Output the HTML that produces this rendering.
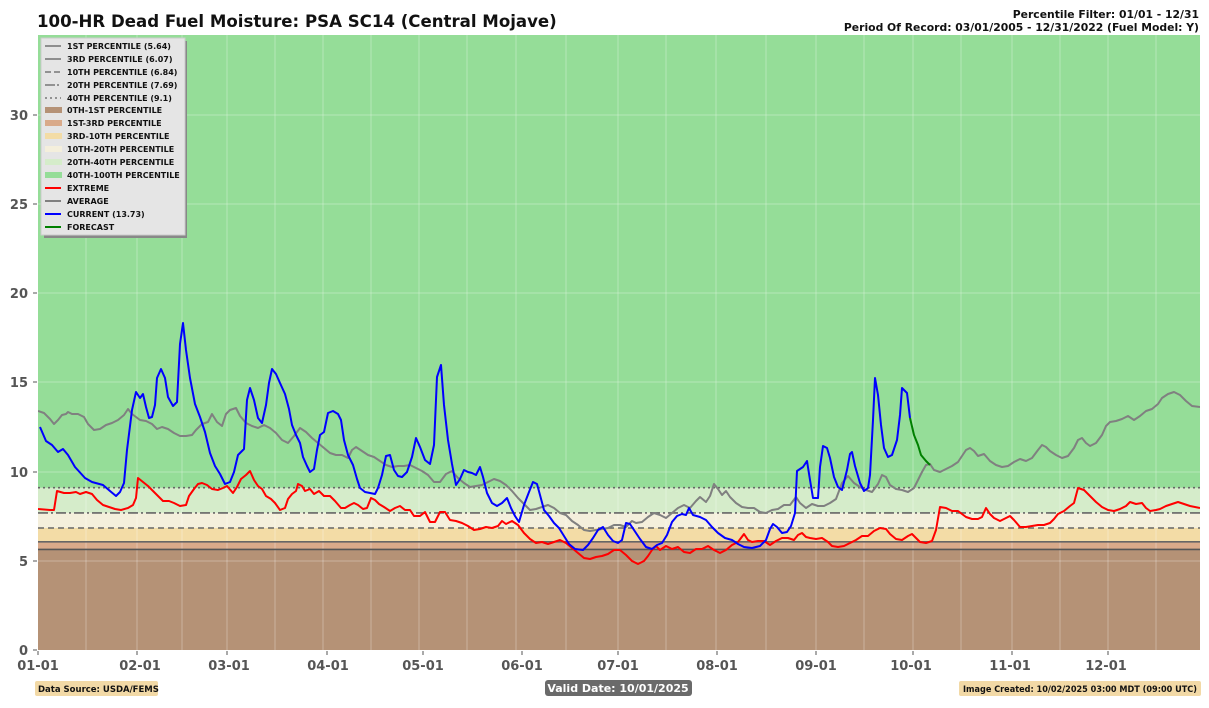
<!DOCTYPE html>
<html><head><meta charset="utf-8"><style>
body{margin:0;background:#fff;width:1209px;height:703px;overflow:hidden;font-family:"Liberation Sans","DejaVu Sans",sans-serif}
svg text{font-family:"DejaVu Sans","Liberation Sans",sans-serif;font-weight:bold}
</style></head><body>
<svg width="1209" height="703" viewBox="0 0 1209 703" xmlns="http://www.w3.org/2000/svg">
<defs><clipPath id="c"><rect x="38" y="35" width="1162" height="615"/></clipPath></defs>
<g clip-path="url(#c)">
<rect x="38" y="35" width="1162" height="453" fill="#95dd98"/>
<rect x="38" y="487.7" width="1162" height="25.2" fill="#d5ecca"/>
<rect x="38" y="512.9" width="1162" height="15.1" fill="#f4efdc"/>
<rect x="38" y="528" width="1162" height="13.8" fill="#f3dca6"/>
<rect x="38" y="541.8" width="1162" height="7.6" fill="#d9aa8a"/>
<rect x="38" y="549.4" width="1162" height="100.6" fill="#b59276"/>
<g stroke="#fff" stroke-opacity="0.3" stroke-width="1">
<path d="M38 115H1200M38 204H1200M38 293H1200M38 382H1200M38 472H1200M38 561H1200"/>
<path d="M86 35V650M137 35V650M182 35V650M227 35V650M275 35V650M323 35V650M371 35V650M419 35V650M467 35V650M516 35V650M566 35V650M618 35V650M666 35V650M716 35V650M766 35V650M816 35V650M864 35V650M913 35V650M961 35V650M1012 35V650M1060 35V650M1108 35V650M1156 35V650"/>
</g>
<g stroke-width="1.6" fill="none">
<path d="M38 549.4H1200" stroke="#555"/>
<path d="M38 541.8H1200" stroke="#666"/>
<path d="M38 528H1200" stroke="#666" stroke-dasharray="6,4"/>
<path d="M38 512.9H1200" stroke="#666" stroke-dasharray="10,3,2,3"/>
<path d="M38 487.7H1200" stroke="#666" stroke-dasharray="2,3"/>
</g>
<g fill="none" stroke-width="2" stroke-linejoin="round">
<polyline stroke="#808080" points="38,411 44,413 50,419 54,424 58,420 62,415 66,414 68,412 72,414 78,414 84,417 88,424 94,430 100,429 106,425 112,423 118,420 124,415 128,409 132,414 140,420 146,421 152,424 157,429 162,427 168,429 174,433 180,436 186,436 192,435 196,430 202,424 208,422 212,414 217,422 222,426 226,414 230,410 236,408 240,416 246,423 252,426 258,428 264,425 270,428 276,433 282,440 288,443 294,436 300,428 306,432 312,438 318,443 324,448 330,453 336,455 342,455 348,458 352,450 356,447 362,451 368,455 374,457 380,461 386,465 392,467 398,466 404,466 410,465 416,468 422,471 428,475 434,482 440,482 446,474 452,471 458,478 464,483 470,487 476,486 482,485 488,482 494,479 500,481 506,485 512,491 518,498 524,504 530,510 536,509 542,507 548,505 554,508 560,513 566,515 572,521 578,525 584,530 590,531 596,530 602,529 608,528 614,525 620,525 626,527 632,521 636,523 642,522 648,517 654,513 660,515 666,518 672,513 678,508 684,505 690,508 696,501 700,497 706,502 710,496 714,484 718,489 722,495 726,491 730,497 736,503 742,507 748,508 754,508 760,512 766,513 772,510 778,509 784,505 790,505 796,497 800,503 806,508 812,504 818,506 824,506 830,503 836,499 842,483 848,476 854,483 860,487 866,490 872,492 878,484 882,475 886,477 890,485 896,489 902,490 908,492 914,488 918,480 922,472 926,465 930,464 934,470 940,472 946,469 952,466 958,462 962,456 966,450 970,448 974,451 978,456 984,454 990,461 996,465 1002,467 1008,466 1014,462 1020,459 1026,461 1032,458 1038,450 1042,445 1046,447 1050,451 1056,455 1062,458 1068,456 1074,448 1078,440 1082,438 1086,443 1090,446 1096,443 1102,435 1106,426 1110,422 1116,421 1122,419 1128,416 1134,420 1140,416 1146,411 1152,409 1158,404 1162,398 1168,394 1174,392 1180,395 1186,401 1192,406 1200,407"/>
<polyline stroke="#ff0000" points="38,509 50,510 54,510 57,491 64,493 70,493 76,492 80,494 86,492 92,494 97,500 103,505 109,507 115,509 121,510 128,508 133,505 136,498 138,478 143,482 148,486 153,491 158,496 163,501 169,501 174,503 180,506 186,505 189,496 194,489 198,484 202,483 207,485 212,489 218,490 223,488 227,486 233,493 237,487 241,479 246,475 250,471 254,480 258,486 262,489 266,496 271,499 275,503 280,510 285,508 288,499 292,494 296,491 298,484 302,486 305,491 310,489 314,494 319,491 324,496 330,496 335,501 341,508 345,508 350,505 354,503 358,505 363,509 367,508 371,498 375,500 379,504 384,507 390,511 395,508 400,506 405,510 410,510 414,516 420,516 425,512 430,522 435,522 440,512 445,512 450,520 456,521 462,523 468,526 474,530 480,529 486,527 492,528 498,526 502,521 506,524 512,521 518,525 524,533 530,539 536,543 542,542 548,544 554,542 560,540 566,543 572,548 578,553 584,558 590,559 596,557 602,556 608,554 614,550 620,550 626,555 632,561 638,564 644,561 648,556 652,550 656,546 660,550 666,546 672,549 678,547 684,552 690,553 696,549 702,549 708,546 714,550 720,553 726,550 732,545 738,542 744,534 748,540 752,542 758,541 764,541 770,545 776,541 782,538 788,538 794,540 798,535 802,533 806,537 810,538 816,539 822,538 828,542 832,546 838,547 844,546 850,543 856,540 862,536 868,536 874,531 880,528 886,529 890,534 896,539 902,540 908,536 912,534 916,538 920,542 926,543 932,541 936,530 940,507 946,508 952,511 958,511 962,514 966,517 972,519 978,519 982,517 986,508 990,514 994,518 1000,521 1006,518 1010,516 1014,520 1020,527 1026,527 1032,526 1038,525 1044,525 1050,523 1054,519 1058,514 1064,511 1070,506 1074,503 1078,488 1084,490 1090,496 1096,502 1102,507 1108,510 1114,511 1120,509 1126,506 1130,502 1136,504 1142,503 1146,508 1150,511 1156,510 1160,509 1166,506 1172,504 1178,502 1184,504 1190,506 1200,508"/>
<polyline stroke="#0000ff" points="40,427 46,441 52,445 58,452 63,449 68,455 75,467 85,478 92,482 103,485 110,491 116,496 120,492 124,483 127,450 132,410 136,392 140,398 143,394 146,407 149,418 152,417 155,405 157,378 161,369 165,378 168,397 173,406 177,402 180,344 183,323 186,350 190,378 195,404 200,417 205,432 210,453 215,466 220,474 225,484 230,482 234,472 238,455 244,449 247,400 250,388 254,400 258,418 262,423 266,405 269,383 272,369 276,374 280,383 285,394 289,409 292,425 296,435 300,443 303,457 307,466 310,472 314,469 317,450 320,435 324,432 328,413 333,411 338,414 341,420 344,440 348,455 353,465 357,479 360,488 365,492 370,493 375,494 378,488 382,475 386,456 390,455 394,470 398,476 402,477 407,472 412,457 416,438 420,447 425,460 430,464 434,445 437,377 441,365 444,405 448,440 452,464 456,485 460,479 464,470 468,472 472,473 476,475 480,467 483,477 487,493 492,503 497,506 502,503 507,498 511,508 515,516 519,522 524,505 529,492 533,482 537,484 540,495 544,510 549,516 554,523 559,528 564,536 569,544 575,549 583,550 588,545 593,538 598,530 603,527 608,535 613,541 618,543 622,540 626,523 630,524 634,530 640,539 646,547 652,549 657,545 662,543 667,535 672,522 677,516 682,514 686,515 689,508 693,515 700,517 706,520 712,527 718,533 725,538 732,540 738,544 744,547 752,548 760,546 766,540 770,529 773,524 777,527 782,533 787,532 791,526 795,513 797,471 803,467 807,461 810,480 813,498 818,498 820,467 823,446 827,448 830,458 834,477 838,487 842,490 847,470 850,454 852,452 855,466 860,483 864,491 868,488 870,475 873,420 875,378 878,395 881,425 884,448 888,457 892,455 897,440 900,415 902,388 907,393 910,418"/>
<polyline stroke="#008000" points="910,418 914,435 918,445 921,455 926,461 930,465"/>
</g>
</g>
<g font-size="13" fill="#555" text-anchor="end">
<text x="28" y="655">0</text><text x="28" y="566">5</text><text x="28" y="477">10</text><text x="28" y="387">15</text><text x="28" y="298">20</text><text x="28" y="209">25</text><text x="28" y="120">30</text>
</g>
<g stroke="#555"><path d="M33 650h4M33 561h4M33 472h4M33 382h4M33 293h4M33 204h4M33 115h4"/>
<path d="M38 651v4M137 651v4M227 651v4M327 651v4M423 651v4M522 651v4M618 651v4M717 651v4M816 651v4M913 651v4M1012 651v4M1108 651v4"/></g>
<g font-size="13" fill="#555" text-anchor="middle">
<text x="38" y="670">01-01</text><text x="140" y="670">02-01</text><text x="229" y="670">03-01</text><text x="328" y="670">04-01</text><text x="423" y="670">05-01</text><text x="522" y="670">06-01</text><text x="618" y="670">07-01</text><text x="717" y="670">08-01</text><text x="816" y="670">09-01</text><text x="911" y="670">10-01</text><text x="1010" y="670">11-01</text><text x="1106" y="670">12-01</text>
</g>
<text x="37" y="27" font-size="16.6" fill="#111">100-HR Dead Fuel Moisture: PSA SC14 (Central Mojave)</text>
<text x="1199" y="18" font-size="10.8" fill="#111" text-anchor="end">Percentile Filter: 01/01 - 12/31</text>
<text x="1199" y="31" font-size="10.8" fill="#111" text-anchor="end">Period Of Record: 03/01/2005 - 12/31/2022 (Fuel Model: Y)</text>
<rect x="35" y="681" width="123" height="15" rx="2" fill="#f2d9a6"/>
<text x="38" y="692" font-size="8.5" fill="#111">Data Source: USDA/FEMS</text>
<rect x="545" y="680" width="147" height="16" rx="3" fill="#6a6a6a"/>
<text x="618" y="692" font-size="11" fill="#fff" text-anchor="middle">Valid Date: 10/01/2025</text>
<rect x="959" y="681" width="242" height="15" rx="2" fill="#f2d9a6"/>
<text x="1080" y="692" font-size="8.5" fill="#111" text-anchor="middle" textLength="234" lengthAdjust="spacingAndGlyphs">Image Created: 10/02/2025 03:00 MDT (09:00 UTC)</text>
<rect x="44" y="41" width="143" height="197" fill="#888"/>
<rect x="41" y="38" width="144" height="197" fill="#e5e5e5" stroke="#ccc"/>
<g font-size="8" fill="#111">
<line x1="45" y1="46" x2="61" y2="46" stroke="#777" stroke-width="1.6"/><text x="67" y="49">1ST PERCENTILE (5.64)</text>
<line x1="45" y1="59" x2="61" y2="59" stroke="#777" stroke-width="1.6"/><text x="67" y="62">3RD PERCENTILE (6.07)</text>
<line x1="45" y1="72" x2="61" y2="72" stroke="#777" stroke-width="1.6" stroke-dasharray="6,3"/><text x="67" y="75">10TH PERCENTILE (6.84)</text>
<line x1="45" y1="85" x2="61" y2="85" stroke="#777" stroke-width="1.6" stroke-dasharray="10,2,2,2"/><text x="67" y="88">20TH PERCENTILE (7.69)</text>
<line x1="45" y1="98" x2="61" y2="98" stroke="#777" stroke-width="1.6" stroke-dasharray="2,3"/><text x="67" y="101">40TH PERCENTILE (9.1)</text>
<rect x="45" y="107" width="17" height="6" fill="#b59276"/><text x="67" y="113">0TH-1ST PERCENTILE</text>
<rect x="45" y="120" width="17" height="6" fill="#d9aa8a"/><text x="67" y="126">1ST-3RD PERCENTILE</text>
<rect x="45" y="133" width="17" height="6" fill="#f3dca6"/><text x="67" y="139">3RD-10TH PERCENTILE</text>
<rect x="45" y="146" width="17" height="6" fill="#f4efdc"/><text x="67" y="152">10TH-20TH PERCENTILE</text>
<rect x="45" y="159" width="17" height="6" fill="#d5ecca"/><text x="67" y="165">20TH-40TH PERCENTILE</text>
<rect x="45" y="172" width="17" height="6" fill="#95dd98"/><text x="67" y="178">40TH-100TH PERCENTILE</text>
<line x1="45" y1="188" x2="61" y2="188" stroke="#f00" stroke-width="2"/><text x="67" y="191">EXTREME</text>
<line x1="45" y1="201" x2="61" y2="201" stroke="#808080" stroke-width="2"/><text x="67" y="204">AVERAGE</text>
<line x1="45" y1="214" x2="61" y2="214" stroke="#00f" stroke-width="2"/><text x="67" y="217">CURRENT (13.73)</text>
<line x1="45" y1="227" x2="61" y2="227" stroke="#008000" stroke-width="2"/><text x="67" y="230">FORECAST</text>
</g>
</svg>
</body></html>
